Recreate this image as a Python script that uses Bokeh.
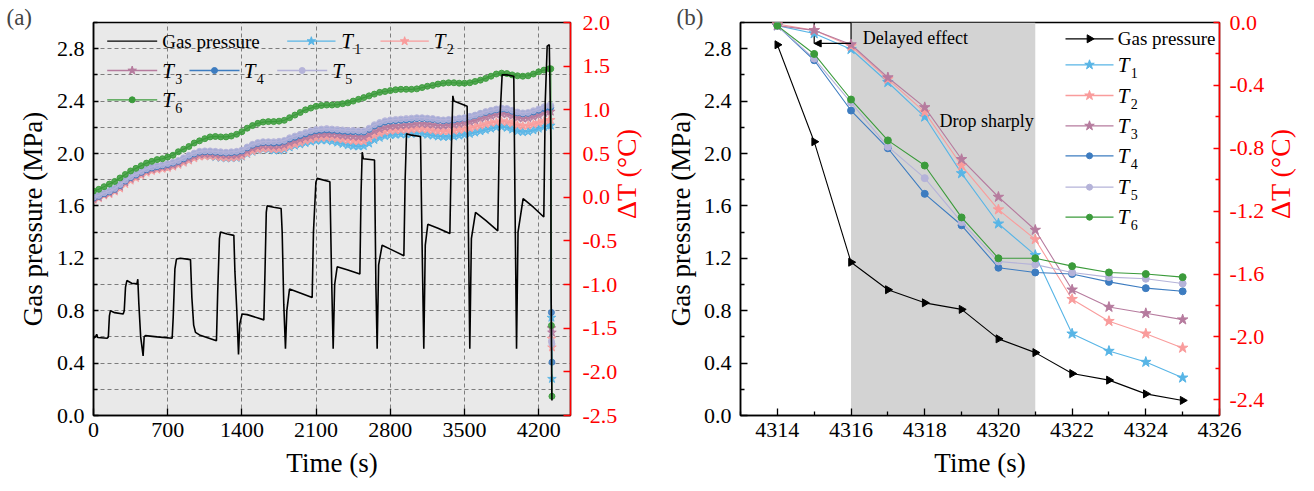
import math
from bokeh.plotting import figure
from bokeh.layouts import row
from bokeh.models import (Range1d, LinearAxis, FixedTicker, PrintfTickFormatter,
                          BoxAnnotation, Arrow, NormalHead)
from bokeh.core.properties import value
from bokeh.embed import file_html
from bokeh.resources import INLINE

SERIF = "Liberation Serif"
RED = "#ff0000"

# ---------------------------------------------------------------- (a) full test
time_a = list(range(0, 4301, 50))          # sampling instants of the temperature probes (s)
tail_time = [4314, 4320, 4325]             # final release samples

t1_a = [0.00, 0.02, 0.05, 0.07, 0.10, 0.14, 0.185, 0.22, 0.25, 0.275,
        0.30, 0.32, 0.33, 0.34, 0.35, 0.36, 0.38, 0.405, 0.43, 0.455,
        0.47, 0.475, 0.47, 0.46, 0.45, 0.445, 0.445, 0.45, 0.465, 0.495,
        0.52, 0.54, 0.55, 0.545, 0.535, 0.535, 0.545, 0.57, 0.59, 0.605,
        0.62, 0.635, 0.645, 0.65, 0.65, 0.64, 0.625, 0.61, 0.595, 0.585,
        0.58, 0.585, 0.615, 0.655, 0.68, 0.70, 0.71, 0.715, 0.72, 0.72,
        0.725, 0.73, 0.725, 0.715, 0.705, 0.695, 0.69, 0.69, 0.695, 0.705,
        0.715, 0.725, 0.74, 0.755, 0.77, 0.785, 0.80, 0.805, 0.795, 0.775,
        0.755, 0.745, 0.75, 0.765, 0.785, 0.805, 0.82]
t2_a = [-0.03, -0.01, 0.02, 0.035, 0.065, 0.10, 0.15, 0.19, 0.22, 0.25,
        0.28, 0.30, 0.315, 0.325, 0.335, 0.35, 0.37, 0.395, 0.42, 0.445,
        0.465, 0.47, 0.47, 0.465, 0.455, 0.45, 0.45, 0.455, 0.47, 0.50,
        0.525, 0.545, 0.555, 0.555, 0.55, 0.55, 0.56, 0.585, 0.605, 0.625,
        0.645, 0.66, 0.675, 0.68, 0.685, 0.68, 0.67, 0.66, 0.65, 0.645,
        0.64, 0.64, 0.67, 0.705, 0.73, 0.75, 0.76, 0.765, 0.77, 0.77,
        0.775, 0.78, 0.78, 0.775, 0.765, 0.755, 0.755, 0.755, 0.76, 0.77,
        0.78, 0.79, 0.805, 0.82, 0.835, 0.85, 0.86, 0.87, 0.86, 0.845,
        0.825, 0.815, 0.82, 0.835, 0.85, 0.87, 0.885]
t3_a = [-0.02, 0.00, 0.03, 0.05, 0.08, 0.12, 0.17, 0.21, 0.24, 0.27,
        0.30, 0.32, 0.335, 0.345, 0.355, 0.37, 0.39, 0.42, 0.445, 0.47,
        0.49, 0.495, 0.495, 0.49, 0.485, 0.48, 0.48, 0.485, 0.50, 0.53,
        0.56, 0.58, 0.59, 0.59, 0.585, 0.59, 0.60, 0.625, 0.645, 0.665,
        0.685, 0.70, 0.715, 0.72, 0.725, 0.72, 0.715, 0.705, 0.70, 0.695,
        0.69, 0.69, 0.72, 0.755, 0.78, 0.80, 0.81, 0.815, 0.82, 0.825,
        0.83, 0.84, 0.84, 0.835, 0.83, 0.82, 0.82, 0.825, 0.83, 0.84,
        0.85, 0.865, 0.88, 0.90, 0.915, 0.93, 0.945, 0.955, 0.95, 0.93,
        0.91, 0.90, 0.905, 0.92, 0.94, 0.965, 0.98]
t4_a = [-0.01, 0.01, 0.04, 0.06, 0.09, 0.135, 0.185, 0.225, 0.255, 0.285,
        0.315, 0.335, 0.35, 0.36, 0.375, 0.39, 0.41, 0.44, 0.47, 0.495,
        0.515, 0.52, 0.52, 0.515, 0.51, 0.505, 0.51, 0.515, 0.53, 0.565,
        0.595, 0.615, 0.625, 0.625, 0.62, 0.625, 0.64, 0.665, 0.685, 0.705,
        0.725, 0.745, 0.76, 0.765, 0.77, 0.765, 0.76, 0.755, 0.75, 0.75,
        0.745, 0.745, 0.775, 0.815, 0.84, 0.86, 0.87, 0.875, 0.88, 0.885,
        0.89, 0.90, 0.90, 0.895, 0.89, 0.88, 0.875, 0.88, 0.885, 0.895,
        0.905, 0.92, 0.935, 0.955, 0.97, 0.985, 1.00, 1.01, 1.005, 0.985,
        0.965, 0.955, 0.96, 0.975, 0.995, 1.015, 1.03]
t5_a = [0.00, 0.02, 0.05, 0.07, 0.10, 0.145, 0.195, 0.235, 0.265, 0.295,
        0.325, 0.345, 0.36, 0.37, 0.385, 0.40, 0.42, 0.45, 0.48, 0.505,
        0.525, 0.53, 0.53, 0.525, 0.52, 0.515, 0.52, 0.525, 0.54, 0.575,
        0.605, 0.625, 0.635, 0.635, 0.635, 0.64, 0.65, 0.68, 0.70, 0.72,
        0.74, 0.76, 0.775, 0.78, 0.785, 0.78, 0.775, 0.77, 0.765, 0.765,
        0.76, 0.76, 0.79, 0.83, 0.855, 0.875, 0.885, 0.89, 0.895, 0.90,
        0.905, 0.91, 0.91, 0.905, 0.90, 0.89, 0.885, 0.89, 0.895, 0.905,
        0.91, 0.925, 0.94, 0.96, 0.98, 0.995, 1.01, 1.02, 1.015, 0.995,
        0.975, 0.965, 0.97, 0.99, 1.01, 1.035, 1.05]
t6_a = [0.07, 0.09, 0.12, 0.15, 0.18, 0.22, 0.26, 0.30, 0.33, 0.36,
        0.39, 0.41, 0.43, 0.44, 0.46, 0.48, 0.52, 0.55, 0.58, 0.62,
        0.645, 0.67, 0.69, 0.695, 0.69, 0.69, 0.70, 0.72, 0.75, 0.79,
        0.82, 0.845, 0.86, 0.865, 0.865, 0.87, 0.88, 0.91, 0.94, 0.97,
        1.00, 1.02, 1.04, 1.05, 1.055, 1.055, 1.06, 1.07, 1.08, 1.10,
        1.12, 1.14, 1.16, 1.18, 1.20, 1.21, 1.22, 1.23, 1.235, 1.235,
        1.235, 1.24, 1.255, 1.27, 1.28, 1.295, 1.305, 1.31, 1.31, 1.305,
        1.305, 1.31, 1.325, 1.34, 1.36, 1.385, 1.41, 1.42, 1.415, 1.40,
        1.39, 1.385, 1.39, 1.41, 1.435, 1.455, 1.47]

t1_tail = [0.82, -1.38, -2.08]
t2_tail = [0.885, -1.62, -1.72]
t3_tail = [0.98, -1.50, -1.55]
t4_tail = [1.03, -1.32, -1.89]
t5_tail = [1.05, -1.65, -1.68]
t6_tail = [1.47, -1.47, -2.28]

gas_time_a = [0, 20, 30, 40, 129, 140, 150, 160, 200, 280,
              290, 302, 315, 360, 410, 418, 428, 445, 468, 478,
              490, 600, 742, 752, 768, 783, 820, 915, 928, 945,
              962, 1000, 1160, 1172, 1188, 1198, 1260, 1324, 1334, 1352,
              1368, 1380, 1402, 1450, 1607, 1618, 1630, 1638, 1700, 1770,
              1780, 1795, 1811, 1824, 1849, 1950, 2063, 2075, 2098, 2110,
              2230, 2245, 2261, 2275, 2299, 2400, 2513, 2524, 2535, 2545,
              2651, 2664, 2676, 2690, 2723, 2800, 2928, 2940, 2953, 3000,
              3085, 3100, 3116, 3130, 3154, 3250, 3362, 3375, 3390, 3400,
              3525, 3537, 3550, 3565, 3604, 3700, 3814, 3830, 3855, 3900,
              3965, 3978, 3991, 4005, 4053, 4150, 4248, 4262, 4280, 4300]
gas_a = [0.59, 0.60, 0.62, 0.595, 0.59, 0.60, 0.76, 0.80, 0.785, 0.775,
         0.80, 0.98, 1.03, 1.01, 1.005, 1.04, 0.85, 0.60, 0.455, 0.60,
         0.61, 0.60, 0.59, 0.75, 1.12, 1.195, 1.20, 1.19, 0.90, 0.69,
         0.635, 0.615, 0.57, 0.95, 1.35, 1.40, 1.385, 1.375, 1.10, 0.80,
         0.465, 0.70, 0.775, 0.77, 0.73, 1.10, 1.55, 1.60, 1.59, 1.58,
         1.40, 0.85, 0.51, 0.80, 0.965, 0.935, 0.90, 1.40, 1.78, 1.81,
         1.785, 1.10, 0.51, 1.00, 1.135, 1.11, 1.08, 1.70, 2.01, 1.96,
         1.95, 1.00, 0.51, 1.15, 1.30, 1.27, 1.22, 1.80, 2.15, 2.14,
         2.13, 1.30, 0.51, 1.30, 1.46, 1.43, 1.39, 2.00, 2.44, 2.40,
         2.36, 1.40, 0.51, 1.35, 1.55, 1.49, 1.41, 2.20, 2.60, 2.60,
         2.59, 1.50, 0.51, 1.40, 1.655, 1.59, 1.515, 2.40, 2.82, 2.83]

# ---------------------------------------------------------------- (b) release stage
time_b = [4314, 4315, 4316, 4317, 4318, 4319, 4320, 4321, 4322, 4323, 4324, 4325]
gas_b = [2.83, 2.09, 1.17, 0.96, 0.86, 0.81, 0.585, 0.48, 0.32, 0.27, 0.165, 0.115]
t1_b = [-0.02, -0.07, -0.17, -0.38, -0.60, -0.96, -1.28, -1.48, -1.98, -2.09, -2.16, -2.26]
t2_b = [-0.01, -0.05, -0.15, -0.36, -0.57, -0.91, -1.19, -1.38, -1.76, -1.90, -1.98, -2.07]
t3_b = [-0.02, -0.05, -0.14, -0.35, -0.54, -0.87, -1.11, -1.32, -1.70, -1.81, -1.85, -1.89]
t4_b = [-0.02, -0.24, -0.56, -0.80, -1.09, -1.29, -1.56, -1.59, -1.60, -1.65, -1.69, -1.71]
t5_b = [-0.02, -0.23, -0.51, -0.79, -0.99, -1.27, -1.52, -1.54, -1.59, -1.62, -1.63, -1.66]
t6_b = [-0.02, -0.20, -0.49, -0.75, -0.91, -1.24, -1.50, -1.50, -1.55, -1.59, -1.60, -1.62]

delay_start, delay_end, sharp_end = 4315, 4316, 4321

# ---------------------------------------------------------------- ticks
press_ticks = [0.0, 0.4, 0.8, 1.2, 1.6, 2.0, 2.4, 2.8]
press_minor = [0.2, 0.6, 1.0, 1.4, 1.8, 2.2, 2.6, 3.0]
press_grid = [0.2, 0.4, 0.6, 0.8, 1.0, 1.2, 1.4, 1.6, 1.8, 2.0, 2.2, 2.4, 2.6, 2.8]
time_ticks_a = [0, 700, 1400, 2100, 2800, 3500, 4200]
dt_ticks_a = [-2.5, -2.0, -1.5, -1.0, -0.5, 0.0, 0.5, 1.0, 1.5, 2.0]
time_ticks_b = [4314, 4316, 4318, 4320, 4322, 4324, 4326]
time_minor_b = [4313, 4315, 4317, 4319, 4321, 4323, 4325]
dt_ticks_b = [-2.4, -2.0, -1.6, -1.2, -0.8, -0.4, 0.0]
dt_minor_b = [-2.2, -1.8, -1.4, -1.0, -0.6, -0.2]

names = ["1", "2", "3", "4", "5", "6"]
colors = ["#58b5e6", "#f99c9c", "#b67b9e", "#3d7cc0", "#b5b3d9", "#3b9b3b"]
markers = ["star", "star", "star", "circle", "circle", "circle"]
msize_a = [9, 9, 9, 6, 6, 6]
msize_b = [11, 11, 11, 7, 7, 7]

WA, WB, H = 661, 653, 491
FRAME_TOP, FRAME_BOTTOM = 22, 415
HAS_LABEL_ORIENT = "axis_label_orientation" in LinearAxis.properties()


def style_axis(ax, color="black", major_in=7, minor_in=4):
    ax.axis_line_color = color
    ax.axis_line_width = 1.5
    ax.major_tick_line_color = color
    ax.minor_tick_line_color = color
    ax.major_tick_line_width = 1.3
    ax.minor_tick_line_width = 1.3
    ax.major_tick_in = major_in
    ax.major_tick_out = 0
    ax.minor_tick_in = minor_in
    ax.minor_tick_out = 0
    ax.major_label_text_font = SERIF
    ax.major_label_text_font_size = "22px"
    ax.major_label_text_color = color
    ax.major_label_standoff = 9
    ax.axis_label_text_font = SERIF
    ax.axis_label_text_font_size = "27px"
    ax.axis_label_text_font_style = "normal"
    ax.axis_label_text_color = color


def make_fig(w, x_rng, y_rng, dt_rng, left, right, bg, tag, tag_offset):
    p = figure(width=w, height=H, x_range=Range1d(*x_rng), y_range=Range1d(*y_rng),
               output_backend="svg", toolbar_location=None,
               min_border_left=left, min_border_right=right,
               min_border_top=FRAME_TOP, min_border_bottom=H - FRAME_BOTTOM,
               background_fill_color=bg, border_fill_color="white",
               outline_line_color="black", outline_line_width=1.5)
    p.extra_y_ranges = {"dt": Range1d(*dt_rng)}
    # panel tag, e.g. "(a)", sitting level with the top of the frame
    p.title.text = tag
    p.title.align = "left"
    p.title.offset = tag_offset
    p.title.standoff = -15
    p.title.text_font = SERIF
    p.title.text_font_size = "23px"
    p.title.text_font_style = "normal"
    return p


def dt_axis(p, ticks, minor, label_standoff, title_standoff):
    ax = LinearAxis(y_range_name="dt", ticker=FixedTicker(ticks=ticks, minor_ticks=minor),
                    formatter=PrintfTickFormatter(format="%.1f"))
    style_axis(ax, color=RED, major_in=6, minor_in=4)
    ax.major_label_standoff = label_standoff
    ax.axis_label = "ΔT (°C)"
    ax.axis_label_text_font_size = "28px"
    ax.axis_label_standoff = title_standoff
    if HAS_LABEL_ORIENT:
        ax.axis_label_orientation = math.pi / 2
    p.add_layout(ax, "right")
    return ax


def legend_entry(p, px2x, px2y, py, lx0, lx1, tx, color, marker, msize, sub=None,
                 label=None, angle=0.0):
    y = px2y(py)
    p.line([px2x(lx0), px2x(lx1)], [y, y], line_color=color, line_width=1.3)
    if marker is not None:
        p.scatter([px2x((lx0 + lx1) / 2)], [y], marker=marker, size=msize,
                  fill_color=color, line_color=color, angle=angle)
    if label is not None:
        p.text([px2x(tx)], [y], text=[label], text_font=value(SERIF),
               text_font_size="19px", text_baseline="middle", text_align="left",
               text_color="black")
    else:
        p.text([px2x(tx)], [y], text=["T"], text_font=value(SERIF),
               text_font_size="21px", text_font_style="italic",
               text_baseline="middle", text_align="left", text_color="black")
        p.text([px2x(tx)], [y], text=[sub], text_font=value(SERIF),
               text_font_size="14px", text_baseline="middle", text_align="left",
               text_color="black", x_offset=13, y_offset=8)


# ================================================================ panel (a)
A_LEFT, A_FW = 93, 477
A_RIGHT = WA - A_LEFT - A_FW
pa = make_fig(WA, (0, 4500), (0, 3.0), (-2.5, 2.0), A_LEFT, A_RIGHT, "#e9e9e9", "(a)", 6 - A_LEFT)
a_fh = FRAME_BOTTOM - FRAME_TOP


def ax_a(px):
    return (px - A_LEFT) / A_FW * 4500


def ay_a(py):
    return (FRAME_BOTTOM - py) / a_fh * 3.0


pa.xaxis.ticker = FixedTicker(ticks=time_ticks_a)
pa.yaxis.ticker = FixedTicker(ticks=press_ticks, minor_ticks=press_minor)
pa.yaxis.formatter = PrintfTickFormatter(format="%.1f")
pa.xaxis.axis_label = "Time (s)"
pa.yaxis.axis_label = "Gas pressure (MPa)"
style_axis(pa.xaxis[0], major_in=7)
style_axis(pa.yaxis[0], major_in=5, minor_in=4)
pa.xaxis.major_label_standoff = 7
pa.xaxis.axis_label_standoff = 8
pa.yaxis.axis_label_standoff = 6

ra = dt_axis(pa, dt_ticks_a, [], 12, 6)
ra.major_tick_in = 7

pa.xgrid.ticker = FixedTicker(ticks=time_ticks_a)
pa.ygrid.ticker = FixedTicker(ticks=press_grid)
pa.grid.grid_line_color = "#7d7d7d"
pa.grid.grid_line_dash = "4 3"
pa.grid.grid_line_width = 1

series_a = [t1_a, t2_a, t3_a, t4_a, t5_a, t6_a]
tails_a = [t1_tail, t2_tail, t3_tail, t4_tail, t5_tail, t6_tail]
for vals, tail, c, m, s in zip(series_a, tails_a, colors, markers, msize_a):
    xs = time_a + tail_time
    ys = vals + tail
    pa.line(xs, ys, line_color=c, line_width=1.2, y_range_name="dt")
    pa.scatter(xs, ys, marker=m, size=s, fill_color=c, line_color=c,
               line_alpha=0.9, fill_alpha=0.85, y_range_name="dt")

pa.line(gas_time_a + time_b[1:], gas_a + gas_b[1:], line_color="black", line_width=1.6)

# legend of (a)
legend_entry(pa, ax_a, ay_a, 40.7, 106.7, 156.7, 161.7, "black", None, 0, label="Gas pressure")
legend_entry(pa, ax_a, ay_a, 40.7, 286.7, 335.0, 340.7, colors[0], markers[0], 9, sub=names[0])
legend_entry(pa, ax_a, ay_a, 40.7, 380.0, 428.3, 433.3, colors[1], markers[1], 9, sub=names[1])
legend_entry(pa, ax_a, ay_a, 70.0, 106.7, 156.7, 161.7, colors[2], markers[2], 9, sub=names[2])
legend_entry(pa, ax_a, ay_a, 70.0, 189.0, 239.0, 243.3, colors[3], markers[3], 6, sub=names[3])
legend_entry(pa, ax_a, ay_a, 70.0, 276.7, 326.7, 331.7, colors[4], markers[4], 6, sub=names[4])
legend_entry(pa, ax_a, ay_a, 99.3, 106.7, 156.7, 161.7, colors[5], markers[5], 6, sub=names[5])

# ================================================================ panel (b)
B_FRAME_X, B_FW = 740, 479            # frame position within the whole page
B_LEFT = B_FRAME_X - WA
B_RIGHT = WB - B_LEFT - B_FW
pb = make_fig(WB, (4313, 4326), (0, 3.0), (-2.5, 0.0), B_LEFT, B_RIGHT, "white", "(b)", 15 - B_LEFT)


def ax_b(px):
    return 4313 + (px - B_FRAME_X) / B_FW * 13


def ay_b(py):
    return (FRAME_BOTTOM - py) / a_fh * 3.0


pb.grid.visible = False
pb.xaxis.ticker = FixedTicker(ticks=time_ticks_b, minor_ticks=time_minor_b)
pb.yaxis.ticker = FixedTicker(ticks=press_ticks, minor_ticks=press_minor)
pb.yaxis.formatter = PrintfTickFormatter(format="%.1f")
pb.xaxis.axis_label = "Time (s)"
pb.yaxis.axis_label = "Gas pressure (MPa)"
style_axis(pb.xaxis[0], major_in=7, minor_in=4)
style_axis(pb.yaxis[0], major_in=7, minor_in=4)
pb.xaxis.major_label_standoff = 7
pb.xaxis.axis_label_standoff = 8
pb.yaxis.axis_label_standoff = 5

dt_axis(pb, dt_ticks_b, dt_minor_b, 10, 13)

pb.add_layout(BoxAnnotation(left=delay_end, right=sharp_end, fill_color="#d3d3d3",
                            fill_alpha=1.0, line_color=None, level="underlay"))

# bracket marking the delayed response
bracket_y = 2.84
pb.segment(x0=[delay_start, delay_end], y0=[bracket_y, bracket_y],
           x1=[delay_start, delay_end], y1=[3.0, 3.0], line_color="black", line_width=1.2)
pb.add_layout(Arrow(end=NormalHead(size=7, fill_color="black", line_color="black"),
                    x_start=delay_end, y_start=bracket_y, x_end=delay_start, y_end=bracket_y,
                    line_color="black", line_width=1.2))
pb.text([delay_end + 0.32], [2.88], text=["Delayed effect"], text_font=value(SERIF),
        text_font_size="18px", text_baseline="middle", text_align="left")
pb.text([4319.68], [2.25], text=["Drop sharply"], text_font=value(SERIF),
        text_font_size="18px", text_baseline="middle", text_align="center")

series_b = [t1_b, t2_b, t3_b, t4_b, t5_b, t6_b]
for vals, c, m, s in zip(series_b, colors, markers, msize_b):
    pb.line(time_b, vals, line_color=c, line_width=1.1, y_range_name="dt")
    pb.scatter(time_b, vals, marker=m, size=s, fill_color=c, line_color=c,
               y_range_name="dt")

pb.line(time_b, gas_b, line_color="black", line_width=1.1)
pb.scatter(time_b, gas_b, marker="triangle", size=8, angle=-math.pi / 2,
           fill_color="black", line_color="black")

# legend of (b)
rows_b = [38.3, 64.3, 95.0, 125.3, 155.3, 186.7, 216.7]
legend_entry(pb, ax_b, ay_b, rows_b[0], 1065, 1113, 1117.3, "black", "triangle", 8,
             label="Gas pressure", angle=-math.pi / 2)
for i in range(6):
    legend_entry(pb, ax_b, ay_b, rows_b[i + 1], 1065, 1113, 1117.3, colors[i], markers[i],
                 msize_b[i] - 1, sub=names[i])

layout = row(pa, pb)
open("out.html", "w").write(file_html(layout, INLINE))
